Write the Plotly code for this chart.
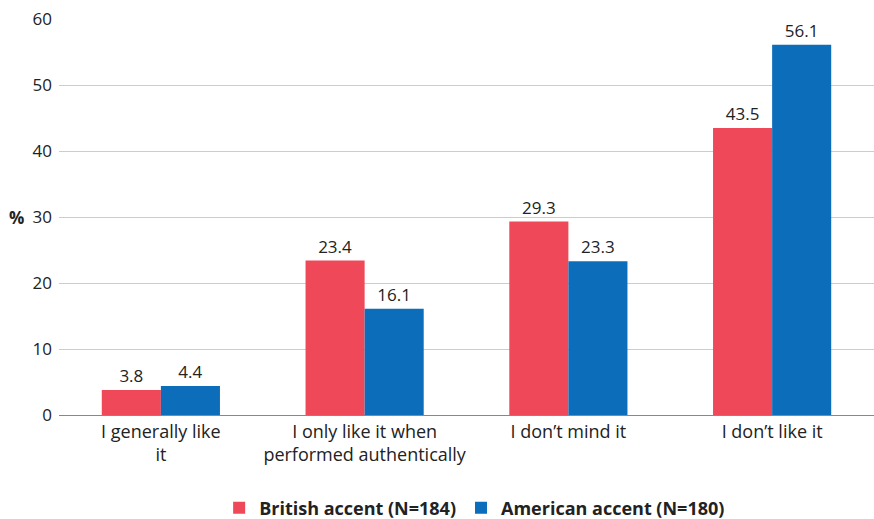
import plotly.graph_objects as go

categories = ["I generally like<br>it", "I only like it when<br>performed authentically", "I don’t mind it", "I don’t like it"]
british = [3.8, 23.4, 29.3, 43.5]
american = [4.4, 16.1, 23.3, 56.1]
series_names = ["<b>British accent (N=184)</b>", "<b>American accent (N=180)</b>"]

font_family = "Open Sans, Noto Sans, sans-serif"
fig = go.Figure()
fig.add_trace(go.Bar(x=categories, y=british, name=series_names[0], marker_color="#EF4858",
                     marker_line_width=0,
                     text=[f"{v:.1f}" for v in british], textposition="outside",
                     textfont=dict(size=17, color="#222222"), cliponaxis=False))
fig.add_trace(go.Bar(x=categories, y=american, name=series_names[1], marker_color="#0C6EBA",
                     marker_line_width=0,
                     text=[f"{v:.1f}" for v in american], textposition="outside",
                     textfont=dict(size=17, color="#222222"), cliponaxis=False))

fig.update_layout(
    width=874, height=519,
    margin=dict(l=59, r=0, t=19, b=104, autoexpand=False),
    barmode="group", bargap=0.42, bargroupgap=0,
    plot_bgcolor="white", paper_bgcolor="white",
    font=dict(family=font_family, size=17, color="#222222"),
    legend=dict(orientation="h", x=0.51, xanchor="center", y=-0.235, yanchor="middle",
                font=dict(size=18, color="#222222", family=font_family), itemsizing="constant"),
    xaxis=dict(showline=True, linecolor="#888888", linewidth=1, ticks="", tickfont=dict(size=18)),
    yaxis=dict(range=[0, 60], dtick=10, showgrid=True, gridcolor="#cccccc", gridwidth=1,
               zeroline=False, ticks="", ticklabelstandoff=6, tickfont=dict(size=17)),
)
fig.add_annotation(text="<b>%</b>", xref="paper", yref="paper", x=-0.04, y=0.5, xanchor="right",
                   yanchor="middle", showarrow=False, font=dict(size=17, color="#222222"))
fig.write_html("out.html")
